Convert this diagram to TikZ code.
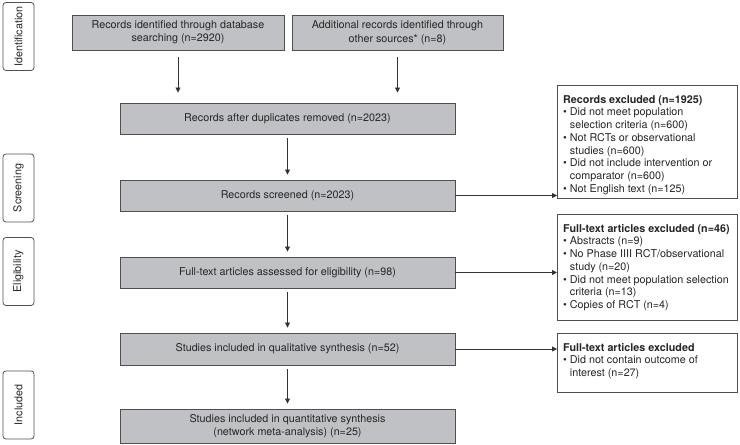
\documentclass[tikz,border=0pt]{standalone}
\usepackage{fontspec}
\setmainfont{TeX Gyre Heros}
\usetikzlibrary{arrows.meta}
\definecolor{boxgrey}{RGB}{192,193,197}
\definecolor{edgegrey}{RGB}{80,80,80}
\newcommand{\blt}{\makebox[1.2ex][l]{\textbullet}}
\newcommand{\hang}{\makebox[1.2ex]{}}
\begin{document}
\begin{tikzpicture}[x=1bp,y=-1bp,
  every node/.style={font=\fontsize{10.8}{13.5}\selectfont,text=black!85},
  phase/.style={draw=edgegrey,line width=0.8bp,rounded corners=3bp,rotate=90,minimum width=68bp,minimum height=31bp,inner sep=0pt},
  stepbox/.style={draw=edgegrey,fill=boxgrey,line width=0.9bp,align=center,inner sep=0pt},
  exbox/.style={draw=edgegrey,fill=white,line width=0.9bp,minimum width=180bp,anchor=north west,inner sep=0pt},
  extext/.style={anchor=north west,align=left,inner xsep=6bp,inner ysep=10bp,font=\fontsize{10.8}{12.8}\selectfont},
  arr/.style={draw=black!80,line width=0.8bp,-{Triangle[length=5bp,width=5bp]}}]
  \useasboundingbox (0,0) rectangle (740,445);
  \node [phase] (ident) at (18.5,36.5) {Identification};
  \node [phase] (screen) at (18.5,188) {Screening};
  \node [phase] (elig) at (18.5,271.5) {Eligibility};
  \node [phase] (incl) at (18.5,405) {Included};
  \node [stepbox,minimum width=212bp,minimum height=35bp] (dbsearch) at (178,32.5) {Records identified through database\\searching (n=2920)};
  \node [stepbox,minimum width=211bp,minimum height=35bp] (othersrc) at (397.5,32.5) {Additional records identified through\\other sources* (n=8)};
  \node [stepbox,minimum width=335bp,minimum height=31bp] (dedup) at (287.5,118.5) {Records after duplicates removed (n=2023)};
  \node [stepbox,minimum width=335bp,minimum height=31bp] (screened) at (287.5,195.5) {Records screened (n=2023)};
  \node [stepbox,minimum width=335bp,minimum height=31bp] (fulltext) at (287.5,272.5) {Full-text articles assessed for eligibility (n=98)};
  \node [stepbox,minimum width=335bp,minimum height=32bp] (quali) at (287.5,349) {Studies included in qualitative synthesis (n=52)};
  \node [stepbox,minimum width=335bp,minimum height=34bp] (quanti) at (287.5,426) {Studies included in quantitative synthesis\\(network meta-analysis) (n=25)};
  \node [exbox,minimum height=113bp] (exrec) at (557,85) {};
  \node [extext] (exrectext) at (exrec.north west) {\textbf{Records excluded (n=1925)}\\
    \blt Did not meet population\\ \hang selection criteria (n=600)\\
    \blt Not RCTs or observational\\ \hang studies (n=600)\\
    \blt Did not include intervention or\\ \hang comparator (n=600)\\
    \blt Not English text (n=125)};
  \node [exbox,minimum height=106bp] (exfull) at (557,214) {};
  \node [extext] (exfulltext) at (exfull.north west) {\textbf{Full-text articles excluded (n=46)}\\
    \blt Abstracts (n=9)\\
    \blt No Phase IIII RCT/observational\\ \hang study (n=20)\\
    \blt Did not meet population selection\\ \hang criteria (n=13)\\
    \blt Copies of RCT (n=4)};
  \node [exbox,minimum height=59bp] (exout) at (557,333) {};
  \node [extext] (exouttext) at (exout.north west) {\textbf{Full-text articles excluded}\\
    \blt Did not contain outcome of\\ \hang interest (n=27)};
  \draw [arr,shorten <=7bp,shorten >=10bp] (dbsearch.south) -- (dbsearch.south |- dedup.north);
  \draw [arr,shorten <=7bp,shorten >=10bp] (othersrc.south) -- (othersrc.south |- dedup.north);
  \draw [arr,shorten <=4bp,shorten >=5bp] (dedup) -- (screened);
  \draw [arr,shorten <=4bp,shorten >=5bp] (screened) -- (fulltext);
  \draw [arr,shorten <=4bp,shorten >=5bp] (fulltext) -- (quali);
  \draw [arr,shorten <=4bp,shorten >=5bp] (quali) -- (quanti);
  \draw [arr] (screened.east) -- (screened.east -| exrec.west);
  \draw [arr] (fulltext.east) -- (fulltext.east -| exfull.west);
  \draw [arr] (quali.east) -- (quali.east -| exout.west);
\end{tikzpicture}
\end{document}
